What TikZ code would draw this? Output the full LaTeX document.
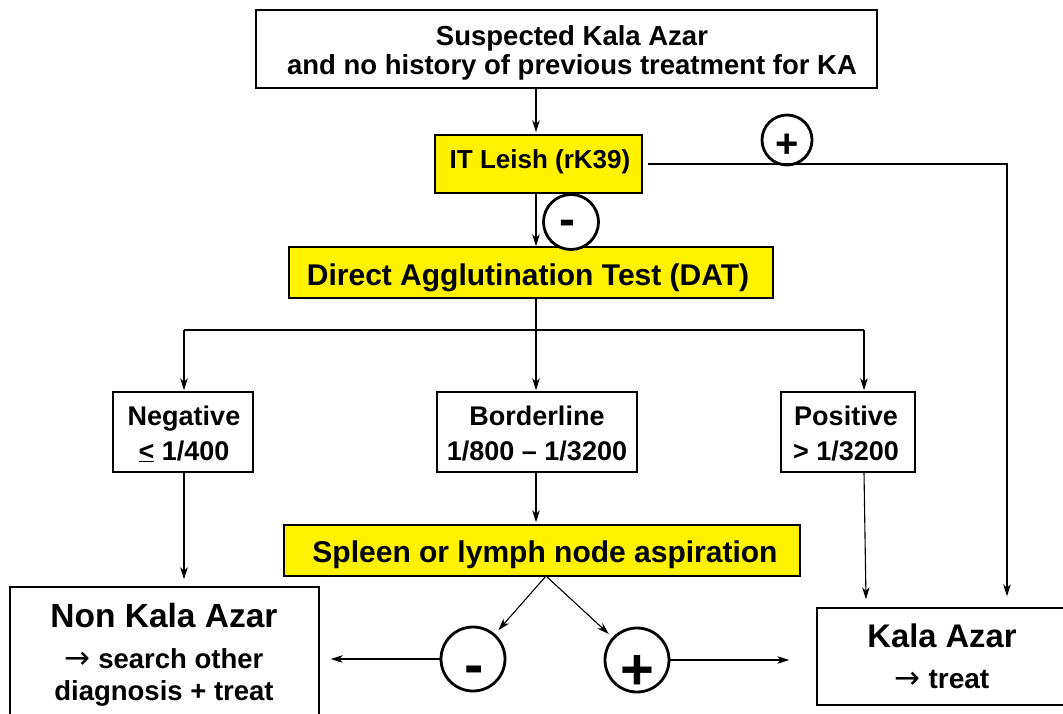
\documentclass[tikz,border=0pt]{standalone}
\usepackage{fontspec}
\setmainfont{Liberation Sans}
\newfontfamily\arrowfont{DejaVu Sans}
\usetikzlibrary{arrows.meta,calc}
\begin{document}
\begin{tikzpicture}[x=1pt,y=-1pt,
  box/.style={draw=black, line width=1.4pt, fill=white, inner sep=0pt},
  ybox/.style={box, fill=yellow},
  txt/.style={inner sep=0pt, align=center, anchor=base},
  sign/.style={circle, draw=black, line width=2.8pt, fill=white, inner sep=0pt},
  signtxt/.style={inner sep=0pt, anchor=base},
  conn/.style={line width=1.1pt, -{Stealth[length=12pt,width=7.5pt,inset=3.5pt]}},
  plain/.style={line width=1.1pt}]
\useasboundingbox (0,0) rectangle (1063,713);

% boxes
\node[box, minimum width=621pt, minimum height=78pt] (top) at (566.5,49) {};
\node[txt, font=\bfseries\fontsize{27.5}{29}\selectfont] (topt) at (572,74) {Suspected Kala Azar\\and no history of previous treatment for KA};

\node[ybox, minimum width=207pt, minimum height=58pt] (it) at (538.5,164) {};
\node[txt, font=\bfseries\fontsize{26}{30}\selectfont] (itt) at (540,168) {IT Leish (rK39)};

\node[ybox, minimum width=484pt, minimum height=51pt] (dat) at (531,272.5) {};
\node[txt, font=\bfseries\fontsize{30}{34}\selectfont] (datt) at (528,285) {Direct Agglutination Test (DAT)};

\node[box, minimum width=140pt, minimum height=80pt] (neg) at (183,432) {};
\node[txt, font=\bfseries\fontsize{27}{35}\selectfont] (negt) at (184,460) {Negative\\\underline{<} 1/400};

\node[box, minimum width=200pt, minimum height=80pt] (bord) at (537,432) {};
\node[txt, font=\bfseries\fontsize{27}{35}\selectfont] (bordt) at (537,460) {Borderline\\1/800 – 1/3200};

\node[box, minimum width=134pt, minimum height=80pt] (pos) at (848,432) {};
\node[txt, font=\bfseries\fontsize{27}{35}\selectfont] (post) at (846,460) {Positive\\> 1/3200};

\node[ybox, minimum width=516pt, minimum height=51pt] (spl) at (542,550.5) {};
\node[txt, font=\bfseries\fontsize{30}{34}\selectfont] (splt) at (545,562) {Spleen or lymph node aspiration};

\node[box, minimum width=309pt, minimum height=134pt] (nka) at (164.5,654) {};
\node[txt, font=\bfseries\fontsize{27.5}{32}\selectfont] (nkat) at (164,700) {{\fontsize{33.5}{36}\selectfont Non Kala Azar}\\[9pt]{\arrowfont\mdseries\fontsize{31}{32}\selectfont →} search other\\diagnosis + treat};

\node[box, minimum width=250pt, minimum height=97pt] (ka) at (942,656.5) {};
\node[txt, font=\bfseries\fontsize{28}{32}\selectfont] (kat) at (942,688) {{\fontsize{32.7}{36}\selectfont Kala Azar}\\[9pt]{\arrowfont\mdseries\fontsize{31}{32}\selectfont →} treat};

% sign circles
\node[sign, minimum size=50pt] (p1) at (787,140) {};
\node[signtxt, font=\bfseries\fontsize{40}{40}\selectfont] (p1t) at (787,157) {+};
\node[sign, minimum size=55pt] (m1) at (571,222) {};
\node[signtxt, font=\bfseries\fontsize{48}{48}\selectfont] (m1t) at (567,235) {-};
\node[sign, minimum size=64pt] (m2) at (473,659) {};
\node[signtxt, font=\bfseries\fontsize{58}{58}\selectfont] (m2t) at (474,684) {-};
\node[sign, minimum size=64pt] (p2) at (637,660) {};
\node[signtxt, font=\bfseries\fontsize{58}{58}\selectfont] (p2t) at (637,689) {+};

% helper coordinates
\coordinate (mid) at (536,330);
\coordinate (lft) at (184,330);
\coordinate (rgt) at (864,330);
\coordinate (rc) at (1007,163);
\coordinate (fork) at (546,576);

% connectors
\draw[conn, shorten >=2pt] (top.south -| mid) -- (it.north -| mid);
\draw[conn] (it.south -| mid) -- (dat.north -| mid);
\draw[conn] ($(it.east)+(5,0)$) -- (it.east -| rc) -- ($(ka.north -| rc)+(0,-11)$);
\draw[plain] (dat.south -| mid) -- (mid);
\draw[plain] (lft) -- (rgt);
\draw[conn, shorten >=1pt] (mid) -- (bord.north -| mid);
\draw[conn, shorten >=1pt] (lft) -- (neg.north -| lft);
\draw[conn, shorten >=1pt] (rgt) -- (pos.north -| rgt);
\draw[conn, shorten >=7pt] (neg.south -| lft) -- (nka.north -| lft);
\draw[conn, shorten >=2pt] (bord.south -| mid) -- (spl.north -| mid);
\draw[conn] (pos.south -| rgt) -- ($(ka.north -| rgt)+(2,-8)$);
\draw[conn, shorten >=5pt] (fork) -- (m2);
\draw[conn, shorten >=5pt] (fork) -- (p2);
\draw[conn, shorten >=11pt] (m2.west) -- (m2.west -| nka.east);
\draw[conn, shorten >=27pt] (p2.east) -- (p2.east -| ka.west);
\end{tikzpicture}
\end{document}
